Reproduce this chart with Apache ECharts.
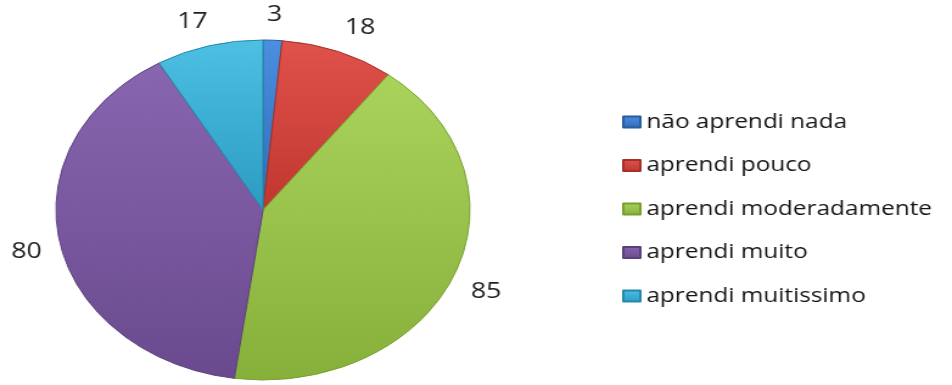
<!DOCTYPE html>
<html>
<head>
<meta charset="utf-8">
<script src="https://cdn.jsdelivr.net/npm/echarts@6/dist/echarts.min.js"></script>
<style>
  html, body { margin: 0; padding: 0; background: #ffffff; overflow: hidden; }
  #wrap { width: 952px; height: 385px; overflow: hidden; }
  /* the chart is laid out on a narrower canvas and stretched to full width */
  #chart { width: 782px; height: 385px; transform: scaleX(1.2174); transform-origin: 0 0; }
</style>
</head>
<body>
<div id="wrap"><div id="chart"></div></div>
<script>
// Survey answers and their counts
const categories = [
  'não aprendi nada',
  'aprendi pouco',
  'aprendi moderadamente',
  'aprendi muito',
  'aprendi muitissimo'
];
const counts = [3, 18, 85, 80, 17];

// Slice colours: [top shade, bottom shade, edge]
const shades = [
  ['#4b8fe0', '#2f6bb7', '#285c9e'],
  ['#e0524b', '#c0372f', '#a32f28'],
  ['#a9d35b', '#86b03a', '#76a02e'],
  ['#8866b0', '#6a4a8e', '#5b3f7b'],
  ['#4dc0e4', '#2c9bc1', '#2588aa']
];

const chart = echarts.init(document.getElementById('chart'));

const pieData = categories.map((name, i) => ({
  name: name,
  value: counts[i],
  itemStyle: {
    color: {
      type: 'linear', x: 0, y: 0, x2: 0, y2: 1,
      colorStops: [
        { offset: 0, color: shades[i][0] },
        { offset: 1, color: shades[i][1] }
      ]
    },
    borderColor: shades[i][2],
    borderWidth: 1
  }
}));

const clamp1 = v => Math.max(-1, Math.min(1, v));

chart.setOption({
  animation: false,
  legend: {
    orient: 'vertical',
    left: 511,
    top: 111,
    padding: 0,
    icon: 'rect',
    itemWidth: 14,
    itemHeight: 11,
    itemGap: 21.5,
    data: categories,
    textStyle: {
      fontFamily: 'Open Sans',
      fontSize: 20,
      lineHeight: 22,
      color: '#141414'
    }
  },
  series: [{
    type: 'pie',
    center: [216, 210],
    radius: 170,
    startAngle: 90,
    clockwise: true,
    avoidLabelOverlap: false,
    data: pieData,
    label: {
      show: true,
      position: 'outside',
      formatter: '{c}',
      fontFamily: 'Open Sans',
      fontSize: 22,
      color: '#1e1e1e'
    },
    labelLine: {
      show: true,
      length: 10,
      length2: 0,
      lineStyle: { opacity: 0 }
    },
    // place each value just outside the rim, with its nearest corner facing the slice
    labelLayout: function (p) {
      const pts = p.labelLinePoints;
      if (!pts) return {};
      const x1 = pts[0][0], y1 = pts[0][1];
      const vx = pts[1][0] - x1, vy = pts[1][1] - y1;
      const len = Math.hypot(vx, vy) || 1;
      const dx = vx / len, dy = vy / len;
      const gap = 14;
      const w = p.labelRect.width, h = p.labelRect.height;
      return {
        x: x1 + dx * (gap + 1) + clamp1(dx * 3) * w / 2,
        y: y1 + dy * gap + clamp1(dy * 3) * h / 2,
        align: 'center',
        verticalAlign: 'middle'
      };
    },
    emphasis: { disabled: true }
  }]
});
</script>
</body>
</html>
